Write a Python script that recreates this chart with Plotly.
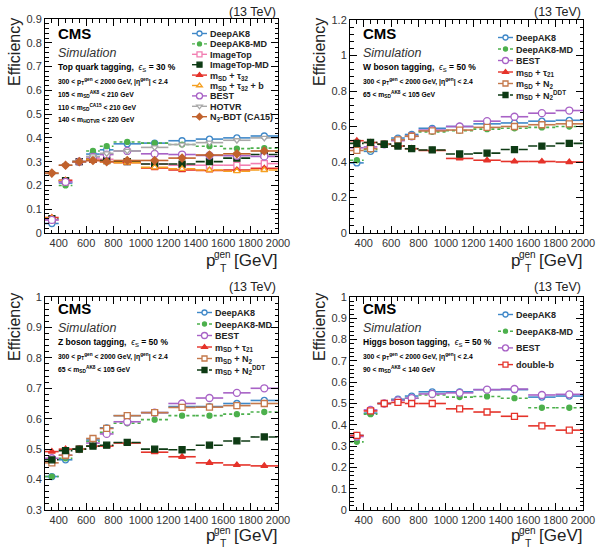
import plotly.graph_objects as go

# ---------------- data ----------------
bin_edges = [300, 400, 500, 600, 700, 800, 1000, 1200, 1400, 1600, 1800, 2000]
bin_centers = [350, 450, 550, 650, 750, 900, 1100, 1300, 1500, 1700, 1900]

# Top quark tagging (eps_S = 30 %)
top_deepak8 = [0.040, 0.210, 0.300, 0.332, 0.350, 0.375, 0.378, 0.388, 0.395, 0.400, 0.408]
top_deepak8_md = [0.060, 0.200, 0.300, 0.345, 0.365, 0.383, 0.378, 0.372, 0.365, 0.355, 0.357]
top_imagetop = [0.055, 0.215, 0.300, 0.312, 0.310, 0.300, 0.290, 0.285, 0.285, 0.285, 0.292]
top_imagetop_md = [0.060, 0.220, 0.300, 0.310, 0.305, 0.300, 0.290, 0.290, 0.300, 0.315, 0.330]
top_msd_tau32 = [0.065, 0.222, 0.300, 0.305, 0.300, 0.296, 0.273, 0.265, 0.263, 0.265, 0.272]
top_msd_tau32_b = [0.063, 0.220, 0.300, 0.310, 0.300, 0.296, 0.276, 0.270, 0.265, 0.260, 0.265]
top_best = [0.055, 0.215, 0.300, 0.320, 0.330, 0.345, 0.333, 0.330, 0.326, 0.325, 0.322]
top_hotvr = [0.250, 0.285, 0.300, 0.322, 0.335, 0.345, 0.360, 0.372, 0.380, 0.390, 0.400]
top_n3bdt = [0.252, 0.285, 0.300, 0.305, 0.300, 0.305, 0.305, 0.315, 0.328, 0.333, 0.345]

# W boson tagging (eps_S = 50 %)
w_deepak8 = [0.395, 0.460, 0.500, 0.535, 0.555, 0.590, 0.600, 0.615, 0.620, 0.630, 0.635]
w_deepak8_md = [0.410, 0.470, 0.500, 0.525, 0.545, 0.570, 0.577, 0.585, 0.590, 0.595, 0.600]
w_best = [0.480, 0.485, 0.500, 0.520, 0.545, 0.580, 0.600, 0.630, 0.655, 0.675, 0.690]
w_msd_tau21 = [0.520, 0.510, 0.500, 0.490, 0.475, 0.465, 0.420, 0.410, 0.403, 0.403, 0.400]
w_msd_n2 = [0.465, 0.475, 0.500, 0.525, 0.545, 0.575, 0.580, 0.595, 0.600, 0.610, 0.615]
w_msd_n2ddt = [0.505, 0.510, 0.500, 0.490, 0.475, 0.468, 0.445, 0.450, 0.470, 0.490, 0.505]

# Z boson tagging (eps_S = 50 %)
z_deepak8 = [0.410, 0.465, 0.500, 0.530, 0.570, 0.610, 0.620, 0.640, 0.640, 0.650, 0.660]
z_deepak8_md = [0.410, 0.470, 0.500, 0.525, 0.555, 0.585, 0.597, 0.610, 0.610, 0.615, 0.622]
z_best = [0.470, 0.480, 0.500, 0.520, 0.550, 0.590, 0.620, 0.650, 0.668, 0.685, 0.700]
z_msd_tau21 = [0.492, 0.500, 0.500, 0.510, 0.510, 0.520, 0.490, 0.475, 0.455, 0.448, 0.445]
z_msd_n2 = [0.455, 0.480, 0.500, 0.535, 0.568, 0.610, 0.620, 0.637, 0.638, 0.643, 0.650]
z_msd_n2ddt = [0.465, 0.495, 0.500, 0.510, 0.513, 0.522, 0.500, 0.498, 0.513, 0.527, 0.540]

# Higgs boson tagging (eps_S = 50 %)
h_deepak8 = [0.350, 0.455, 0.500, 0.520, 0.535, 0.555, 0.555, 0.565, 0.565, 0.530, 0.535]
h_deepak8_md = [0.320, 0.450, 0.500, 0.515, 0.525, 0.540, 0.530, 0.533, 0.525, 0.480, 0.480]
h_best = [0.345, 0.470, 0.500, 0.515, 0.525, 0.545, 0.550, 0.565, 0.568, 0.540, 0.543]
h_doubleb = [0.350, 0.465, 0.500, 0.505, 0.500, 0.500, 0.475, 0.460, 0.440, 0.395, 0.375]

# ---------------- styles ----------------
C_DAK8 = "#3f88c8"
C_DAK8MD = "#4cb04c"
C_IMG = "#f27fb2"
C_DKGREEN = "#0e3b14"
C_RED = "#e5332a"
C_ORANGE = "#f5a021"
C_PURPLE = "#a862c6"
C_GREY = "#a8a8a8"
C_BROWN = "#c1622d"
C_BROWN2 = "#c4784a"

W, H = 596, 555
FONT = "Liberation Sans, Arial, sans-serif"


def px(x):
    return x / W


def py(y):
    return 1 - y / H


fig = go.Figure()


def add_series(idx, legend_id, name, vals, color, dash, symbol, filled, msize=6):
    xa = "x" if idx == 1 else f"x{idx}"
    ya = "y" if idx == 1 else f"y{idx}"
    lx, ly = [], []
    for i, v in enumerate(vals):
        lx += [bin_edges[i], bin_edges[i + 1], None]
        ly += [v, v, None]
    mfill = color if filled else "white"
    marker = dict(symbol=symbol, size=msize, color=mfill, line=dict(color=color, width=1.3))
    line = dict(color=color, width=1.6, dash=dash)
    fig.add_trace(go.Scatter(x=lx, y=ly, mode="lines", line=line, xaxis=xa, yaxis=ya,
                             showlegend=False, hoverinfo="skip"))
    fig.add_trace(go.Scatter(x=bin_centers, y=vals, mode="markers", marker=marker,
                             xaxis=xa, yaxis=ya, showlegend=False, name=name))
    fig.add_trace(go.Scatter(x=[None], y=[None], mode="lines+markers",
                             marker=dict(marker, size=msize - 1), line=dict(line, width=1.4),
                             xaxis=xa, yaxis=ya, name=name, legend=legend_id,
                             showlegend=True))


# Panel 1: top
add_series(1, "legend", "DeepAK8", top_deepak8, C_DAK8, "solid", "circle", False)
add_series(1, "legend", "DeepAK8-MD", top_deepak8_md, C_DAK8MD, "dot", "circle", True, 5)
add_series(1, "legend", "ImageTop", top_imagetop, C_IMG, "solid", "square", False)
add_series(1, "legend", "ImageTop-MD", top_imagetop_md, C_DKGREEN, "dash", "square", True)
add_series(1, "legend", "m<sub>SD</sub> + τ<sub>32</sub>", top_msd_tau32, C_RED, "solid", "triangle-up", True)
add_series(1, "legend", "m<sub>SD</sub> + τ<sub>32</sub> + b", top_msd_tau32_b, C_ORANGE, "dash", "triangle-up", False)
add_series(1, "legend", "BEST", top_best, C_PURPLE, "solid", "circle", False, 7)
add_series(1, "legend", "HOTVR", top_hotvr, C_GREY, "solid", "triangle-down", False)
add_series(1, "legend", "N<sub>3</sub>-BDT (CA15)", top_n3bdt, C_BROWN, "solid", "diamond", True)

# Panel 2: W
add_series(2, "legend2", "DeepAK8", w_deepak8, C_DAK8, "solid", "circle", False)
add_series(2, "legend2", "DeepAK8-MD", w_deepak8_md, C_DAK8MD, "dot", "circle", True, 5)
add_series(2, "legend2", "BEST", w_best, C_PURPLE, "solid", "circle", False, 7)
add_series(2, "legend2", "m<sub>SD</sub> + τ<sub>21</sub>", w_msd_tau21, C_RED, "solid", "triangle-up", True)
add_series(2, "legend2", "m<sub>SD</sub> + N<sub>2</sub>", w_msd_n2, C_BROWN2, "solid", "square", False)
add_series(2, "legend2", "m<sub>SD</sub> + N<sub>2</sub><sup>DDT</sup>", w_msd_n2ddt, C_DKGREEN, "dashdot", "square", True)

# Panel 3: Z
add_series(3, "legend3", "DeepAK8", z_deepak8, C_DAK8, "solid", "circle", False)
add_series(3, "legend3", "DeepAK8-MD", z_deepak8_md, C_DAK8MD, "dot", "circle", True, 5)
add_series(3, "legend3", "BEST", z_best, C_PURPLE, "solid", "circle", False, 7)
add_series(3, "legend3", "m<sub>SD</sub> + τ<sub>21</sub>", z_msd_tau21, C_RED, "solid", "triangle-up", True)
add_series(3, "legend3", "m<sub>SD</sub> + N<sub>2</sub>", z_msd_n2, C_BROWN2, "solid", "square", False)
add_series(3, "legend3", "m<sub>SD</sub> + N<sub>2</sub><sup>DDT</sup>", z_msd_n2ddt, C_DKGREEN, "dashdot", "square", True)

# Panel 4: Higgs
add_series(4, "legend4", "DeepAK8", h_deepak8, C_DAK8, "solid", "circle", False)
add_series(4, "legend4", "DeepAK8-MD", h_deepak8_md, C_DAK8MD, "dot", "circle", True, 5)
add_series(4, "legend4", "BEST", h_best, C_PURPLE, "solid", "circle", False, 7)
add_series(4, "legend4", "double-b", h_doubleb, C_RED, "solid", "square", False)

# ---------------- axes ----------------
# pixel boxes of the 4 plot areas: (left, right, top, bottom)
boxes = {
    1: (45, 278, 19, 233),
    2: (350, 583, 20, 233),
    3: (45, 278, 297, 510),
    4: (350, 583, 297, 510),
}
yranges = {1: [0, 0.9], 2: [0, 1.2], 3: [0.3, 1.0], 4: [0, 1.0]}
ydticks = {1: 0.1, 2: 0.2, 3: 0.1, 4: 0.1}
yminor = {1: 0.02, 2: 0.04, 3: 0.02, 4: 0.02}

layout = dict(
    width=W, height=H,
    margin=dict(l=0, r=0, t=0, b=0, autoexpand=False),
    paper_bgcolor="white", plot_bgcolor="white",
    font=dict(family=FONT, color="#222"),
    showlegend=True,
)
for i, (l, r, t, b) in boxes.items():
    xk = "xaxis" if i == 1 else f"xaxis{i}"
    yk = "yaxis" if i == 1 else f"yaxis{i}"
    ya = "y" if i == 1 else f"y{i}"
    xa = "x" if i == 1 else f"x{i}"
    layout[xk] = dict(
        domain=[px(l), px(r)], anchor=ya, range=[300, 2000], dtick=200, tick0=0,
        ticks="inside", ticklen=7, tickwidth=1, tickcolor="black", mirror="ticks",
        showline=True, linecolor="black", linewidth=1, showgrid=False, zeroline=False,
        tickfont=dict(size=11, color="#333", family=FONT),
        minor=dict(ticks="inside", ticklen=3.5, dtick=50, tickcolor="black", showgrid=False),
    )
    layout[yk] = dict(
        domain=[py(b), py(t)], anchor=xa, range=yranges[i], dtick=ydticks[i], tick0=0,
        ticks="inside", ticklen=7, tickwidth=1, tickcolor="black", mirror="ticks",
        showline=True, linecolor="black", linewidth=1, showgrid=False, zeroline=False,
        tickfont=dict(size=11, color="#333", family=FONT),
        minor=dict(ticks="inside", ticklen=3.5, dtick=yminor[i], tickcolor="black", showgrid=False),
    )

# legends (legend text starts 40 px right of the legend's x)
leg_common = dict(bgcolor="rgba(0,0,0,0)", borderwidth=0, xanchor="left", yanchor="top",
                  itemwidth=30, font=dict(size=9, family=FONT, color="#222", weight="bold"),
                  tracegroupgap=0)
layout["legend"] = dict(leg_common, x=px(170), y=py(19))
layout["legend2"] = dict(leg_common, x=px(476), y=py(23))
layout["legend3"] = dict(leg_common, x=px(175), y=py(298))
layout["legend4"] = dict(leg_common, x=px(476), y=py(300))

fig.update_layout(**layout)

# ---------------- text ----------------
panel_text = {
    1: ["<b>Top quark tagging,</b>  <i>ϵ</i><sub>S</sub><b> = 30 %</b>",
        ["300 < p<sub>T</sub><sup>gen</sup> < 2000 GeV, |η<sup>gen</sup>| < 2.4",
         "105 < m<sub>SD</sub><sup>AK8</sup> < 210 GeV",
         "110 < m<sub>SD</sub><sup>CA15</sup> < 210 GeV",
         "140 < m<sub>HOTVR</sub> < 220 GeV"]],
    2: ["<b>W boson tagging,</b>  <i>ϵ</i><sub>S</sub><b> = 50 %</b>",
        ["300 < p<sub>T</sub><sup>gen</sup> < 2000 GeV, |η<sup>gen</sup>| < 2.4",
         "65 < m<sub>SD</sub><sup>AK8</sup> < 105 GeV"]],
    3: ["<b>Z boson tagging,</b>  <i>ϵ</i><sub>S</sub><b> = 50 %</b>",
        ["300 < p<sub>T</sub><sup>gen</sup> < 2000 GeV, |η<sup>gen</sup>| < 2.4",
         "65 < m<sub>SD</sub><sup>AK8</sup> < 105 GeV"]],
    4: ["<b>Higgs boson tagging,</b>  <i>ϵ</i><sub>S</sub><b> = 50 %</b>",
        ["300 < p<sub>T</sub><sup>gen</sup> < 2000 GeV, |η<sup>gen</sup>| < 2.4",
         "90 < m<sub>SD</sub><sup>AK8</sup> < 140 GeV"]],
}

ann = []


def A(x, y, text, size, xanchor="left", yanchor="middle", angle=0, color="black"):
    ann.append(dict(x=px(x), y=py(y), xref="paper", yref="paper", text=text, showarrow=False,
                    xanchor=xanchor, yanchor=yanchor, textangle=angle,
                    font=dict(size=size, family=FONT, color=color)))


for i, (l, r, t, b) in boxes.items():
    yoff = 0 if i in (1, 2) else 275
    tx = l + 11
    A(r, 12 + yoff, "(13 TeV)", 12.5, xanchor="right", color="#222")
    A(l - 31, 52 + yoff, "Efficiency", 16, xanchor="center", angle=-90, color="#222")
    # x title: "p" with stacked "gen" (superscript) and "T" (subscript), then "[GeV]"
    A(r + 1, 260 + yoff, "[GeV]", 17, xanchor="right", color="#222")
    A(r - 45, 255 + yoff, "gen", 10, xanchor="right", color="#222")
    A(r - 60, 268 + yoff, "T", 10.5, xanchor="left", color="#222")
    A(r - 61, 260 + yoff, "p", 17, xanchor="right", color="#222")
    A(tx, 33 + yoff, "<b>CMS</b>", 15)
    A(tx, 53 + yoff, "<i>Simulation</i>", 12.5, color="#333")
    head, lines = panel_text[i]
    A(tx, 67 + yoff, head, 8.5)
    for k, s in enumerate(lines):
        A(tx, 81 + yoff + 13 * k, "<b>" + s + "</b>", 6.8)

fig.update_layout(annotations=ann)

post = r"""
var gd = document.getElementById('{plot_id}');
function tighten(){
  var spec = {legend: 10.4, legend2: 11.5, legend3: 11.5, legend4: 16.7};
  Object.keys(spec).forEach(function(k){
    var lg = gd.querySelector('g.' + k);
    if (!lg) return;
    var items = lg.querySelectorAll('g.traces');
    var y0 = null;
    items.forEach(function(it, i){
      var t = it.getAttribute('transform') || '';
      var m = /translate\(\s*([-\d.e]+)[ ,]+([-\d.e]+)\s*\)/.exec(t);
      if (!m) return;
      var x = parseFloat(m[1]), y = parseFloat(m[2]);
      if (y0 === null) y0 = y;
      it.setAttribute('transform', 'translate(' + x + ',' + (y0 + i * spec[k]) + ')');
      it.querySelectorAll('path.js-line').forEach(function(p){ p.setAttribute('d', 'M22,0h15'); });
      it.querySelectorAll('path.scatterpts').forEach(function(p){ p.setAttribute('transform', 'translate(29.5,0)'); });
    });
  });
}
tighten();
gd.on('plotly_afterplot', tighten);
setTimeout(tighten, 50);
setTimeout(tighten, 300);
"""

fig.write_html("out.html", post_script=post, config={"displayModeBar": False})
